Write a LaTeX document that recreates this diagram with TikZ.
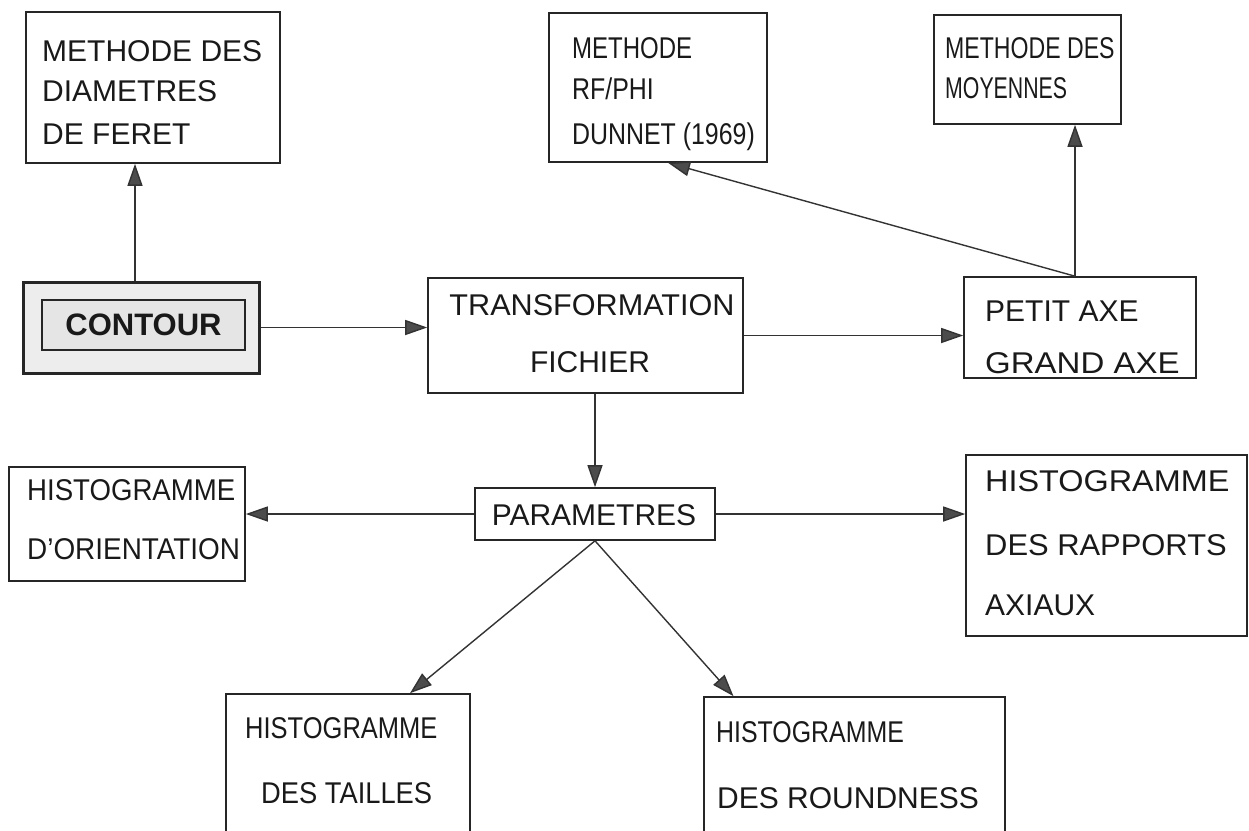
\documentclass[tikz,border=0pt]{standalone}
\usepackage{fontspec}
\setmainfont{Liberation Sans}
\usetikzlibrary{arrows.meta,calc}
% horizontally squeezed or stretched text
\newcommand\hsq[2]{\scalebox{#1}[1]{#2}}
\begin{document}
\begin{tikzpicture}[x=1pt,y=-1pt,
  box/.style={draw=black!85, line width=1.6pt, rectangle, inner sep=0pt},
  txt/.style={inner sep=0pt, anchor=base west, font=\fontsize{30}{36}\selectfont, text=black!90},
  arr/.style={draw=black!80, line width=1.4pt,
    -{Triangle[length=22pt,width=15pt,fill=black!70]}}]
\useasboundingbox (0,0) rectangle (1249,830);
\clip (0,0) rectangle (1249,830);

% boxes: centre, width, height
\node[box, minimum width=254, minimum height=151] (feret)  at (153,87.5) {};
\node[box, minimum width=218, minimum height=149] (rfphi)  at (658,87.5) {};
\node[box, minimum width=187, minimum height=109] (moy)    at (1027.5,69.5) {};
\node[box, minimum width=315, minimum height=115] (transf) at (585.5,335.5) {};
\node[box, minimum width=232, minimum height=101] (petit)  at (1080,327.5) {};
\node[box, minimum width=240, minimum height=52]  (param)  at (595,514) {};
\node[box, minimum width=236, minimum height=114] (orient) at (127,524) {};
\node[box, minimum width=281, minimum height=181] (rapp)   at (1106.5,545.5) {};
\node[box, minimum width=244, minimum height=160] (tailles) at (348,774) {};
\node[box, minimum width=301, minimum height=160] (round)  at (854.5,777) {};

% double framed, shaded start box
\node[box, line width=3pt, fill=black!7, minimum width=236, minimum height=91] (contour) at (141,327.5) {};
\node[box, line width=1.6pt, fill=black!10, minimum width=203, minimum height=50,
      font=\fontsize{31}{36}\selectfont\bfseries, text=black!90] (contourin) at (143.5,325) {CONTOUR};

% labels
\node[txt] (t1a) at (42,61)  {METHODE DES};
\node[txt] (t1b) at (42,101) {DIAMETRES};
\node[txt] (t1c) at (42,144) {DE FERET};

\node[txt] (t2a) at (572,58)  {\hsq{0.8}{METHODE}};
\node[txt] (t2b) at (572,99)  {\hsq{0.83}{RF/PHI}};
\node[txt] (t2c) at (572,144) {\hsq{0.83}{DUNNET (1969)}};

\node[txt] (t3a) at (945,58) {\hsq{0.77}{METHODE DES}};
\node[txt] (t3b) at (945,98) {\hsq{0.71}{MOYENNES}};

\node[txt, anchor=base] (t4a) at (592,315) {\hsq{1.02}{TRANSFORMATION}};
\node[txt, anchor=base] (t4b) at (590,372) {FICHIER};

\node[txt] (t5a) at (985,321) {PETIT AXE};
\node[txt] (t5b) at (985,373) {\hsq{1.1}{GRAND AXE}};

\node[txt, anchor=base] (t6) at (594,525) {PARAMETRES};

\node[txt] (t7a) at (27,500) {\hsq{0.92}{HISTOGRAMME}};
\node[txt] (t7b) at (27,559) {\hsq{0.93}{D'ORIENTATION}};

\node[txt] (t8a) at (985,491) {\hsq{1.08}{HISTOGRAMME}};
\node[txt] (t8b) at (985,555) {\hsq{1.03}{DES RAPPORTS}};
\node[txt] (t8c) at (985,615) {AXIAUX};

\node[txt] (t9a) at (245,738) {\hsq{0.85}{HISTOGRAMME}};
\node[txt] (t9b) at (261,803) {\hsq{0.91}{DES TAILLES}};

\node[txt] (t10a) at (716,742) {\hsq{0.83}{HISTOGRAMME}};
\node[txt] (t10b) at (717,808) {DES ROUNDNESS};

% connectors
\draw[arr] ($(contour.north)+(-6,0)$) -- ($(contour.north|-feret.south)+(-6,0)$);
\draw[arr] (contour.east) -- (contour.east -| transf.west);
\draw[arr] (transf.east) -- (transf.east -| petit.west);
\coordinate (pn) at ($(petit.north)+(-5,0)$);
\draw[arr] (pn) -- (pn |- moy.south);
\draw[arr] (pn) -- ($(rfphi.south)+(10,0)$);
\draw[arr] (param.north |- transf.south) -- (param.north);
\draw[arr] (param.west) -- (param.west -| orient.east);
\draw[arr] (param.east) -- (param.east -| rapp.west);
\draw[arr] (param.south) -- ($(tailles.north)+(62,0)$);
\draw[arr] (param.south) -- ($(round.north)+(-121,0)$);
\end{tikzpicture}
\end{document}
